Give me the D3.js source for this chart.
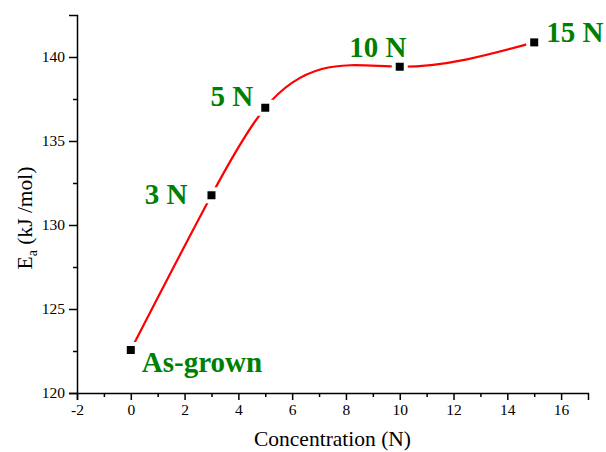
<!DOCTYPE html>
<html lang="en">
<head>
  <meta charset="UTF-8">
  <title>Activation energy vs concentration</title>
  <script src="https://d3js.org/d3.v7.min.js"></script>
  <style>
    body {
      margin: 0;
      background: #fff;
    }
    svg {
      display: block;
    }
    .axis path, .axis line {
      stroke: #000;
      stroke-width: 1.5;
    }
    .axis text {
      font-size: 15.5px;
      fill: #000;
    }
    .title {
      font-size: 21.5px;
      fill: #000;
    }
    .label {
      font-size: 29px;
      font-weight: bold;
      fill: #008000;
    }
  </style>
</head>
<body>
  <svg id="chart"></svg>

  <script>
    // data
    const concentration = [0, 3, 5, 10, 15];
    const energy = [122.56, 131.77, 136.98, 139.42, 140.87];
    const pointLabels = ["As-grown", "3 N", "5 N", "10 N", "15 N"];

    const xTicks = [-2, 0, 2, 4, 6, 8, 10, 12, 14, 16];
    const yTicks = [120, 125, 130, 135, 140];

    const width = 606;
    const height = 452;
    const margin = {top: 15, right: 18, bottom: 59, left: 77};
    const serif = "'Liberation Serif', 'Times New Roman', Times, serif";

    // where each label sits relative to its point (px) and its anchor
    const labelLayout = [
      {dx: 11, dy: 22, anchor: "start"},
      {dx: -24, dy: 9, anchor: "end"},
      {dx: -12, dy: -2, anchor: "end"},
      {dx: -22, dy: -10, anchor: "middle"},
      {dx: 12, dy: 0, anchor: "start"}
    ];

    // natural cubic spline in x (like Origin's spline connection),
    // each piece drawn as an exact bezier segment
    function curveSplineX(context) {
      let pts;
      return {
        areaStart() {},
        areaEnd() {},
        lineStart() { pts = []; },
        point(px, py) { pts.push([+px, +py]); },
        lineEnd() {
          const n = pts.length;
          if (!n) return;
          context.moveTo(pts[0][0], pts[0][1]);
          if (n < 3) {
            if (n === 2) context.lineTo(pts[1][0], pts[1][1]);
            return;
          }
          const h = [], d = [];
          for (let i = 0; i < n - 1; i++) {
            h[i] = pts[i + 1][0] - pts[i][0];
            d[i] = (pts[i + 1][1] - pts[i][1]) / h[i];
          }
          // tridiagonal solve for second derivatives, ends free
          const M = new Array(n).fill(0);
          const a = [], b = [], c = [], r = [];
          for (let i = 1; i < n - 1; i++) {
            a[i] = h[i - 1];
            b[i] = 2 * (h[i - 1] + h[i]);
            c[i] = h[i];
            r[i] = 6 * (d[i] - d[i - 1]);
          }
          for (let i = 2; i < n - 1; i++) {
            const m = a[i] / b[i - 1];
            b[i] -= m * c[i - 1];
            r[i] -= m * r[i - 1];
          }
          for (let i = n - 2; i >= 1; i--) {
            M[i] = (r[i] - (i < n - 2 ? c[i] * M[i + 1] : 0)) / b[i];
          }
          for (let i = 0; i < n - 1; i++) {
            const s0 = d[i] - h[i] * (2 * M[i] + M[i + 1]) / 6;
            const s1 = d[i] + h[i] * (M[i] + 2 * M[i + 1]) / 6;
            const [x0, y0] = pts[i], [x1, y1] = pts[i + 1];
            context.bezierCurveTo(
              x0 + h[i] / 3, y0 + s0 * h[i] / 3,
              x1 - h[i] / 3, y1 - s1 * h[i] / 3,
              x1, y1);
          }
        }
      };
    }

    const svg = d3.select("#chart")
      .attr("width", width)
      .attr("height", height)
      .attr("font-family", serif);

    const x = d3.scaleLinear()
      .domain([-2, 17])
      .range([margin.left, width - margin.right]);

    const y = d3.scaleLinear()
      .domain([120, 142.5])
      .range([height - margin.bottom, margin.top]);

    // minor ticks sit halfway between the majors
    const xMinor = d3.range(-1, 17, 2);
    const yMinor = d3.range(122.5, 142.5, 5);
    const plain = v => String(v); // hyphen minus, as in the original

    const xAxisG = svg.append("g")
      .attr("class", "axis")
      .attr("transform", `translate(0,${height - margin.bottom})`);
    xAxisG.call(d3.axisBottom(x).tickValues(xTicks).tickFormat(plain)
      .tickSizeOuter(0).tickSize(7).tickPadding(4));
    xAxisG.append("g")
      .call(d3.axisBottom(x).tickValues(xMinor).tickSize(4).tickFormat(""))
      .select(".domain").remove();

    const yAxisG = svg.append("g")
      .attr("class", "axis")
      .attr("transform", `translate(${margin.left},0)`);
    yAxisG.call(d3.axisLeft(y).tickValues(yTicks).tickFormat(plain)
      .tickSizeOuter(0).tickSize(8).tickPadding(4));
    yAxisG.append("g")
      .call(d3.axisLeft(y).tickValues(yMinor).tickSize(4).tickFormat(""))
      .select(".domain").remove();

    svg.selectAll(".axis").attr("font-family", serif);

    // axis titles
    svg.append("text")
      .attr("class", "title")
      .attr("font-family", serif)
      .attr("x", (x.range()[0] + x.range()[1]) / 2)
      .attr("y", height - 6)
      .attr("text-anchor", "middle")
      .text("Concentration (N)");

    const yTitle = svg.append("text")
      .attr("class", "title")
      .attr("font-family", serif)
      .attr("transform", "translate(32,218) rotate(-90)")
      .attr("text-anchor", "middle");
    yTitle.append("tspan").text("E");
    yTitle.append("tspan").attr("font-size", "14px").attr("dy", 5).text("a");
    yTitle.append("tspan").attr("dy", -5).text(" (kJ /mol)");

    const points = concentration.map((c, i) => [c, energy[i]]);

    // red spline through the points
    const line = d3.line()
      .x(d => x(d[0]))
      .y(d => y(d[1]))
      .curve(curveSplineX);

    svg.append("path")
      .datum(points)
      .attr("fill", "none")
      .attr("stroke", "#ff0000")
      .attr("stroke-width", 2.2)
      .attr("d", line);

    // white halo gives the gap between line and symbol
    svg.selectAll("rect.halo")
      .data(points)
      .join("rect")
      .attr("class", "halo")
      .attr("x", d => x(d[0]) - 8)
      .attr("y", d => y(d[1]) - 8)
      .attr("width", 16)
      .attr("height", 16)
      .attr("fill", "#fff");

    svg.selectAll("rect.marker")
      .data(points)
      .join("rect")
      .attr("class", "marker")
      .attr("x", d => x(d[0]) - 4)
      .attr("y", d => y(d[1]) - 4)
      .attr("width", 8)
      .attr("height", 8)
      .attr("fill", "#000");

    svg.selectAll("text.label")
      .data(points)
      .join("text")
      .attr("class", "label")
      .attr("font-family", serif)
      .attr("x", (d, i) => x(d[0]) + labelLayout[i].dx)
      .attr("y", (d, i) => y(d[1]) + labelLayout[i].dy)
      .attr("text-anchor", (d, i) => labelLayout[i].anchor)
      .text((d, i) => pointLabels[i]);
  </script>
</body>
</html>
